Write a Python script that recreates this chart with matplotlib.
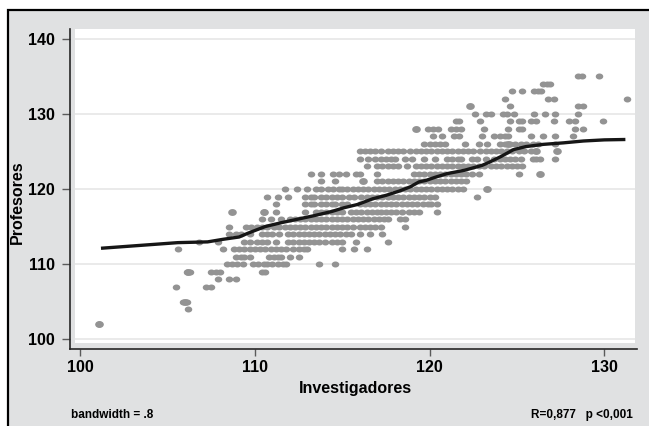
import matplotlib.pyplot as plt
import numpy as np
from matplotlib.patches import Rectangle

# Investigadores values, one list per Profesores level (rows of dots) -----------
inv_102 = [101.1]
inv_104 = [106.2]
inv_105 = [105.9, 106.1]
inv_107 = [105.5, 107.2, 107.5]
inv_108 = [107.9, 108.5, 108.9]
inv_109 = [106.1, 106.3, 107.5, 107.8, 108.0, 110.4, 110.6]
inv_110 = [108.4, 108.7, 109.0, 109.3, 109.9, 110.2, 110.5, 110.7, 111.0,
           111.3, 111.6, 111.8, 113.7, 114.6]
inv_111 = [108.9, 109.2, 109.4, 109.7, 110.8, 111.1, 111.3, 111.5, 112.0, 112.5]
inv_112 = [105.6, 108.2, 108.8, 109.1, 109.4, 109.7, 110.0, 110.3, 110.6, 110.9,
           111.2, 111.5, 111.8, 112.2, 112.5, 112.8, 113.0, 115.0, 115.7, 116.4]
inv_113 = [106.8, 107.9, 109.4, 109.7, 110.1, 110.4, 110.7, 111.2, 111.9, 112.2,
           112.5, 112.8, 113.1, 113.4, 113.7, 114.0, 114.4, 114.7, 115.0, 115.8,
           117.6]
inv_114 = [108.5, 108.9, 109.2, 109.7, 110.4, 110.7, 111.0, 111.4, 111.9, 112.2,
           112.5, 112.8, 113.1, 113.4, 113.7, 114.0, 114.3, 114.6, 114.9, 115.2,
           115.5, 116.0, 116.6, 117.3]
inv_115 = [108.5, 109.5, 109.8, 110.1, 110.4, 110.7, 111.1, 111.4, 111.7, 112.0,
           112.3, 112.6, 112.9, 113.2, 113.5, 113.8, 114.1, 114.4, 114.7, 115.0,
           115.3, 115.6, 116.0, 116.3, 116.6, 116.9, 117.2, 118.6]
inv_116 = [110.4, 110.9, 111.5, 112.0, 112.3, 112.6, 112.9, 113.2, 113.5, 113.8,
           114.1, 114.4, 114.7, 115.0, 115.3, 115.6, 115.9, 116.2, 116.5, 116.8,
           117.1, 117.4, 117.6, 118.3, 118.6]
inv_117 = [110.5, 111.2, 112.9, 113.5, 113.8, 114.1, 114.4, 114.7, 115.0, 115.5,
           115.8, 116.1, 116.4, 116.7, 117.0, 117.2, 117.5, 117.8, 118.1, 118.4,
           118.8, 119.1, 119.4, 120.4]
inv_118 = [111.2, 112.9, 113.2, 113.4, 113.8, 114.1, 114.4, 114.6, 115.0, 115.3,
           116.0, 116.3, 116.6, 116.9, 117.2, 117.5, 117.8, 118.1, 118.4, 118.7,
           119.0, 119.3, 119.6, 119.9, 120.1, 120.4]
inv_119 = [110.7, 111.3, 111.9, 112.9, 113.2, 113.4, 113.8, 114.1, 114.4, 114.7,
           115.0, 115.4, 115.7, 116.1, 116.4, 116.7, 117.0, 117.3, 117.6, 117.9,
           118.2, 118.5, 118.8, 119.1, 119.4, 119.7, 120.0, 120.3, 122.7]
inv_120 = [111.7, 112.4, 113.0, 113.5, 113.8, 114.2, 114.5, 114.8, 115.0, 115.3,
           115.6, 115.9, 116.2, 116.5, 116.8, 117.1, 117.4, 117.7, 118.0, 118.3,
           118.6, 118.9, 119.2, 119.5, 119.8, 120.1, 120.4, 120.7, 121.0, 121.3,
           121.6, 121.9]
inv_121 = [113.8, 114.6, 117.0, 117.3, 117.6, 117.9, 118.2, 118.5, 118.8, 119.1,
           119.4, 119.7, 120.0, 120.3, 120.6, 120.9, 121.2, 121.5, 121.8, 122.1]
inv_122 = [113.2, 113.8, 114.5, 114.8, 115.2, 115.8, 116.0, 117.0, 119.1, 119.4,
           119.7, 120.0, 120.3, 120.6, 120.9, 121.2, 121.5, 121.8, 122.1, 122.4,
           122.8, 125.1]
inv_123 = [116.4, 117.0, 117.3, 117.6, 117.9, 118.2, 118.7, 119.2, 119.5, 119.8,
           120.1, 120.4, 120.7, 121.0, 121.3, 121.6, 121.9, 122.2, 122.5, 122.8,
           123.1, 123.5, 123.8, 124.1, 124.4, 124.7, 125.0, 125.3]
inv_124 = [116.0, 116.5, 116.9, 117.2, 117.5, 117.8, 118.0, 118.6, 119.0, 119.7,
           120.3, 121.0, 121.3, 121.6, 121.8, 122.4, 122.7, 123.2, 123.7, 124.0,
           124.3, 124.6, 124.9, 125.2, 125.9, 126.1, 126.3, 127.2]
inv_125 = [116.0, 116.3, 116.6, 116.9, 117.2, 117.6, 117.9, 118.2, 118.5, 118.9,
           119.2, 119.5, 119.8, 120.1, 120.4, 120.7, 121.0, 121.3, 121.6, 121.9,
           122.2, 122.5, 122.9, 123.2, 123.5, 123.8, 124.1, 124.4, 124.7, 125.1,
           125.4, 125.8]
inv_126 = [119.7, 120.0, 120.3, 120.6, 120.9, 122.0, 122.8, 123.3, 124.0, 124.3,
           124.6, 124.9, 125.2, 125.5, 125.9, 126.2, 127.2]
inv_127 = [120.2, 120.7, 121.4, 121.7, 123.0, 123.7, 124.0, 124.3, 124.5, 125.8,
           126.5, 127.2, 128.2]
inv_128 = [119.9, 120.2, 120.5, 121.2, 121.5, 121.8, 123.1, 124.5, 125.1, 125.3,
           128.3, 128.8]
inv_129 = [121.5, 121.7, 122.9, 124.6, 125.1, 125.3, 125.8, 126.1, 127.1, 128.0,
           128.3, 129.9]
inv_130 = [122.6, 123.2, 123.5, 124.2, 124.4, 124.8, 126.0, 126.6, 127.2, 128.5]
inv_131 = [124.6, 128.5, 128.8]
inv_132 = [124.3, 126.8, 127.1, 131.3]
inv_133 = [124.7, 125.3, 126.0, 126.2, 126.4]
inv_134 = [126.5, 126.7, 126.9]
inv_135 = [128.5, 128.7, 129.7]

rows = [(102, inv_102), (104, inv_104), (105, inv_105), (107, inv_107),
        (108, inv_108), (109, inv_109), (110, inv_110), (111, inv_111),
        (112, inv_112), (113, inv_113), (114, inv_114), (115, inv_115),
        (116, inv_116), (117, inv_117), (118, inv_118), (119, inv_119),
        (120, inv_120), (121, inv_121), (122, inv_122), (123, inv_123),
        (124, inv_124), (125, inv_125), (126, inv_126), (127, inv_127),
        (128, inv_128), (129, inv_129), (130, inv_130), (131, inv_131),
        (132, inv_132), (133, inv_133), (134, inv_134), (135, inv_135)]

# heavier points (drawn a bit larger)
big_x = [101.1, 106.0, 106.2, 108.7, 110.5, 116.2, 123.3, 119.2, 122.3, 126.3,
         126.1, 127.3, 124.5]
big_y = [102, 105, 109, 117, 117, 121, 120, 128, 131, 122, 125, 125, 126]

# lowess fit (bandwidth .8)
low_x = [101.2, 105.6, 107.3, 108.2, 109.1, 109.6, 110.6, 111.5, 112.5, 113.4,
         114.4, 115.1, 115.9, 116.75, 117.5, 118.3, 118.9, 119.4, 119.8, 120.3,
         121.0, 122.0, 123.0, 123.4, 124.1, 124.8, 125.5, 126.5, 127.65, 128.8,
         130.0, 131.2]
low_y = [112.1, 112.85, 112.95, 113.3, 113.6, 114.1, 115.0, 115.5, 116.0, 116.45,
         117.0, 117.5, 117.95, 118.7, 119.15, 119.75, 120.3, 120.95, 121.15, 121.55,
         122.05, 122.5, 123.15, 123.55, 124.35, 125.25, 125.65, 125.95, 126.15, 126.4,
         126.55, 126.6]

xticks = [100, 110, 120, 130]
yticks = [100, 110, 120, 130, 140]

# ------------------------------------------------------------------------------
W, H = 649, 426
plt.rcParams['font.family'] = ['Liberation Sans', 'DejaVu Sans']
plt.rcParams['font.weight'] = 'bold'

fig = plt.figure(figsize=(W / 100, H / 100), dpi=100)
fig.patch.set_facecolor('white')

# grey graph region with black frame (left/top visible)
fig.add_artist(Rectangle((8.3 / W, -0.1), 1.2, 1.1 - 10.0 / H,
                         transform=fig.transFigure, facecolor='#e0e1e2',
                         edgecolor='black', linewidth=1.6, zorder=-10))

ax = fig.add_axes([75 / W, 1 - 342.7 / H, 560 / W, (342.7 - 29) / H])
ax.set_facecolor('white')

px = []
py = []
for yv, xs in rows:
    px += xs
    py += [yv] * len(xs)

t = np.linspace(0, 2 * np.pi, 41)
ell = list(zip(np.cos(t), 0.8 * np.sin(t)))

ax.plot(px, py, linestyle='none', marker=ell, markersize=5.4,
        color='#939393', markeredgewidth=0, zorder=3)
ax.plot(big_x, big_y, linestyle='none', marker=ell, markersize=6.2,
        color='#939393', markeredgewidth=0, zorder=3)
ax.plot(low_x, low_y, color='#161616', linewidth=2.4, zorder=4,
        solid_capstyle='butt')

ax.set_xlim(99.714, 131.75)
ax.set_ylim(99.51, 141.33)
ax.set_xticks(xticks)
ax.set_yticks(yticks)
ax.grid(axis='y', color='#e4e4e4', linewidth=1.1, zorder=0)
ax.set_axisbelow(True)

for s in ['top', 'right']:
    ax.spines[s].set_visible(False)
ax.spines['left'].set_position(('outward', 3.6))
ax.spines['bottom'].set_position(('outward', 4.5))
ax.spines['left'].set_bounds(98.67, 141.33)
ax.spines['bottom'].set_bounds(99.43, 131.87)
for s in ['left', 'bottom']:
    ax.spines[s].set_linewidth(1.2)
    ax.spines[s].set_color('#262626')

ax.tick_params(axis='y', length=5.8, width=1.0, color='#5a5a5a', pad=5,
               labelsize=11.5)
ax.tick_params(axis='x', length=5.0, width=1.0, color='#5a5a5a', pad=3,
               labelsize=11.5)
for lab in ax.get_xticklabels() + ax.get_yticklabels():
    lab.set_fontweight('bold')

fig.text(355 / W, 1 - 388 / H, 'Investigadores', ha='center', va='center',
         fontsize=11.5, fontweight='bold')
fig.text(17 / W, 1 - 202 / H, 'Profesores', ha='center', va='center',
         rotation=90, fontsize=11.5, fontweight='bold')
fig.text(71 / W, 1 - 415 / H, 'bandwidth = .8', ha='left', va='center',
         fontsize=8.5, fontweight='bold')
fig.text(633 / W, 1 - 415 / H, 'R=0,877   p <0,001', ha='right', va='center',
         fontsize=8.5, fontweight='bold')

fig.savefig('out.png', dpi=100)
